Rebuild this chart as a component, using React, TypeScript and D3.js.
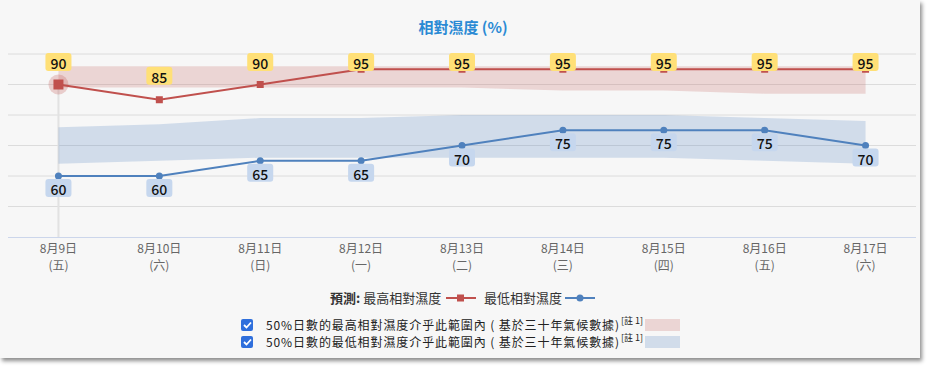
import * as d3 from "d3";
import React from "react";

const dates = ["8月9日", "8月10日", "8月11日", "8月12日", "8月13日", "8月14日", "8月15日", "8月16日", "8月17日"];
const weekdays = ["(五)", "(六)", "(日)", "(一)", "(二)", "(三)", "(四)", "(五)", "(六)"];
const maxRh = [90, 85, 90, 95, 95, 95, 95, 95, 95];
const minRh = [60, 60, 65, 65, 70, 75, 75, 75, 70];
// 50% climatological ranges
const maxBandHi = [96, 96, 96, 96, 96, 96, 96, 96, 96];
const maxBandLo = [89, 89, 89, 89, 89, 88, 88, 87, 87];
const minBandHi = [76, 77, 79, 79, 80, 80, 80, 79, 78];
const minBandLo = [64, 65, 66, 66, 66, 66, 66, 65, 64];
const yTicks = [50, 60, 70, 80, 90, 100];

const FONT = "'Noto Sans CJK TC', 'Noto Sans', sans-serif";
const RED = "#c0504d";
const BLUE = "#4f81bd";

const App = () => {
    const width = 920;
    const height = 358;
    const plotTop = 54;
    const plotBottom = 237;

    const x = d3.scaleBand().domain(dates).range([8, 916]);
    const cx = (i: number) => (x(dates[i]) as number) + x.bandwidth() / 2;
    const y = d3.scaleLinear().domain([40, 100]).range([plotBottom, plotTop]);

    const idx = dates.map((_, i) => i);
    const band = (hi: number[], lo: number[]) =>
        d3.area<number>().x(i => cx(i)).y0(i => y(lo[i])).y1(i => y(hi[i]))(idx) || "";
    const line = (vals: number[]) => d3.line<number>().x(i => cx(i)).y(i => y(vals[i]))(idx) || "";

    return (
        <div style={{ position: "absolute", left: 0, top: 0, width, height, background: "#f7f7f7", boxShadow: "2px 3px 4px rgba(0,0,0,0.45)" }}>
            <svg width={width} height={height} style={{ fontFamily: FONT, display: "block" }}>
                <text x={463} y={33} textAnchor="middle" fontSize={15} fill="#2a8ad4" fontWeight={600}>相對濕度 (%)</text>

                {yTicks.map(t => (
                    <line key={t} x1={8} x2={916} y1={y(t)} y2={y(t)} stroke="#dcdcdc" />
                ))}
                <line x1={8} x2={916} y1={plotBottom + 0.5} y2={plotBottom + 0.5} stroke="#ccd6eb" />

                {/* crosshair */}
                <line x1={cx(0)} x2={cx(0)} y1={y(maxRh[0])} y2={plotBottom} stroke="#e2e2e2" strokeWidth={2} />

                <path d={band(maxBandHi, maxBandLo)} fill="rgba(192,80,77,0.2)" />
                <path d={band(minBandHi, minBandLo)} fill="rgba(79,129,189,0.22)" />

                <path d={line(maxRh)} fill="none" stroke={RED} strokeWidth={2} />
                <path d={line(minRh)} fill="none" stroke={BLUE} strokeWidth={2} />

                {maxRh.map((v, i) =>
                    i === 0 ? (
                        <g key={i}>
                            <circle cx={cx(i)} cy={y(v)} r={10} fill="rgba(192,80,77,0.25)" />
                            <rect x={cx(i) - 5} y={y(v) - 5} width={10} height={10} fill={RED} />
                        </g>
                    ) : (
                        <rect key={i} x={cx(i) - 3.5} y={y(v) - 3.5} width={7} height={7} fill={RED} />
                    )
                )}
                {minRh.map((v, i) => (
                    <circle key={i} cx={cx(i)} cy={y(v)} r={3.5} fill={BLUE} />
                ))}

                {maxRh.map((v, i) => {
                    const top = Math.max(plotTop - 1, y(v) - 33);
                    return (
                        <g key={i}>
                            <rect x={cx(i) - 13} y={top} width={26} height={18} rx={3} fill="#ffe077" />
                            <text x={cx(i)} y={top + 16} textAnchor="middle" fontSize={14} fontWeight={500} fill="#111">{v}</text>
                        </g>
                    );
                })}
                {minRh.map((v, i) => {
                    const top = y(v) + 3;
                    return (
                        <g key={i}>
                            <rect x={cx(i) - 13} y={top} width={26} height={18} rx={3} fill="#c6d7ee" />
                            <text x={cx(i)} y={top + 16} textAnchor="middle" fontSize={14} fontWeight={500} fill="#111">{v}</text>
                        </g>
                    );
                })}

                {dates.map((d, i) => (
                    <g key={d} fill="#666" fontSize={12} textAnchor="middle">
                        <text x={cx(i)} y={253}>{d}</text>
                        <text x={cx(i)} y={270}>{weekdays[i]}</text>
                    </g>
                ))}

                {/* legend */}
                <g fontSize={13} fill="#333">
                    <text x={330} y={303}><tspan fontWeight="bold">預測: </tspan>最高相對濕度</text>
                    <line x1={446} x2={476} y1={298} y2={298} stroke={RED} strokeWidth={2} />
                    <rect x={457} y={294.5} width={7} height={7} fill={RED} />
                    <text x={484} y={303}>最低相對濕度</text>
                    <line x1={565} x2={595} y1={298} y2={298} stroke={BLUE} strokeWidth={2} />
                    <circle cx={580} cy={298} r={3.5} fill={BLUE} />
                </g>

                {[
                    { label: "50%日數的最高相對濕度介乎此範圍內 ( 基於三十年氣候數據)", fill: "rgba(192,80,77,0.2)", yy: 325 },
                    { label: "50%日數的最低相對濕度介乎此範圍內 ( 基於三十年氣候數據)", fill: "rgba(79,129,189,0.22)", yy: 342 },
                ].map(r => (
                    <g key={r.yy}>
                        <rect x={241} y={r.yy - 6} width={12} height={12} rx={2} fill="#2f6fdc" />
                        <path d={`M244,${r.yy} l2.5,2.5 l4.5,-5`} fill="none" stroke="#fff" strokeWidth={1.8} />
                        <text x={266} y={r.yy + 4.5} fontSize={12} fill="#222" textLength={353} lengthAdjust="spacing">{r.label}</text>
                        <text x={621} y={r.yy - 1} fontSize={9} fill="#222">[註 1]</text>
                        <rect x={645} y={r.yy - 6} width={35} height={12} fill={r.fill} />
                    </g>
                ))}
            </svg>
        </div>
    );
};

export default App;
